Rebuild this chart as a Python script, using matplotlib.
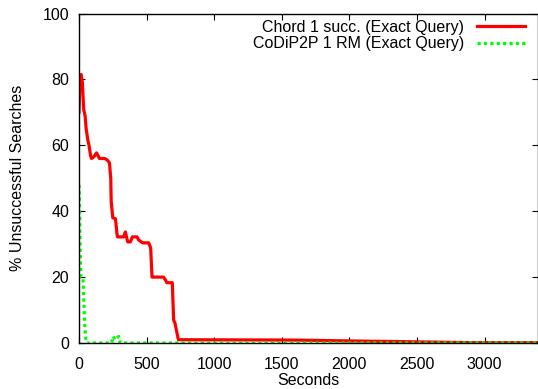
import numpy as np
import matplotlib
matplotlib.use("Agg")
import matplotlib.pyplot as plt

plt.rcParams['font.family'] = ['Liberation Sans', 'DejaVu Sans']

# Chord 1 successor (exact query): time (s) and % unsuccessful searches
chord_t = [0, 8, 15, 25, 35, 45, 53, 65, 74, 85, 92, 110, 130, 151, 160, 190, 210, 225, 235,
           238, 250, 270, 280, 285, 330, 343, 360, 380, 395, 430, 440, 470, 515, 530, 540,
           550, 625, 640, 650, 690, 700, 710, 725, 735, 1545, 1745, 2055, 2425, 2905, 3400]
chord_v = [70, 81, 81.5, 79, 70.8, 69, 65, 61.7, 60, 57, 56, 56.5, 57.7, 56, 56, 56, 55.5, 54.7, 50,
           43, 38, 37.7, 33.4, 32.2, 32.2, 33.7, 30.7, 30.7, 32.2, 32.2, 31.3, 30.4, 30.4, 28.9, 20,
           20, 20, 19.1, 18.3, 18.3, 7, 6, 3, 1, 0.9, 0.8, 0.6, 0.4, 0.1, 0.1]

# CoDiP2P 1 RM (exact query)
codip_t = [0, 3, 6, 10, 15, 25, 30, 40, 48, 55, 240, 255, 265, 280, 294, 305, 3400]
codip_v = [48, 44, 35, 25, 20, 20, 19, 8, 2, 0, 0, 2, 1, 1.5, 2, 0, 0]

fig = plt.figure(figsize=(5.38, 3.89), dpi=100)
ax = fig.add_axes([79 / 538, 1 - 343 / 389, 1 - 79 / 538, (343 - 13.5) / 389])

ax.plot(chord_t, chord_v, color='#ff0000', linewidth=2.3,
        label='Chord 1 succ. (Exact Query)')
ax.plot(codip_t, codip_v, color='#00ff00', linewidth=2.3, linestyle=(0, (1, 1)),
        label='CoDiP2P 1 RM (Exact Query)')

ax.set_xlim(0, 3395)
ax.set_ylim(0, 100)
ax.set_xticks([0, 500, 1000, 1500, 2000, 2500, 3000])
ax.set_yticks([0, 20, 40, 60, 80, 100])
ax.tick_params(direction='in', top=True, right=True, labelsize=11.5, length=4, width=0.8)
ax.tick_params(axis='x', pad=10)
ax.tick_params(axis='y', pad=7)
ax.set_xlabel('Seconds', fontsize=11.5, labelpad=1)
ax.set_ylabel('% Unsuccessful Searches', fontsize=11.5, labelpad=13)
for s in ax.spines.values():
    s.set_linewidth(1.0)

ax.legend(loc='upper right', frameon=False, markerfirst=False, fontsize=11.5,
          handlelength=3.0, handletextpad=0.8, labelspacing=0.1,
          borderaxespad=0.0, bbox_to_anchor=(0.985, 1.0))

plt.savefig('out.png', dpi=100)
